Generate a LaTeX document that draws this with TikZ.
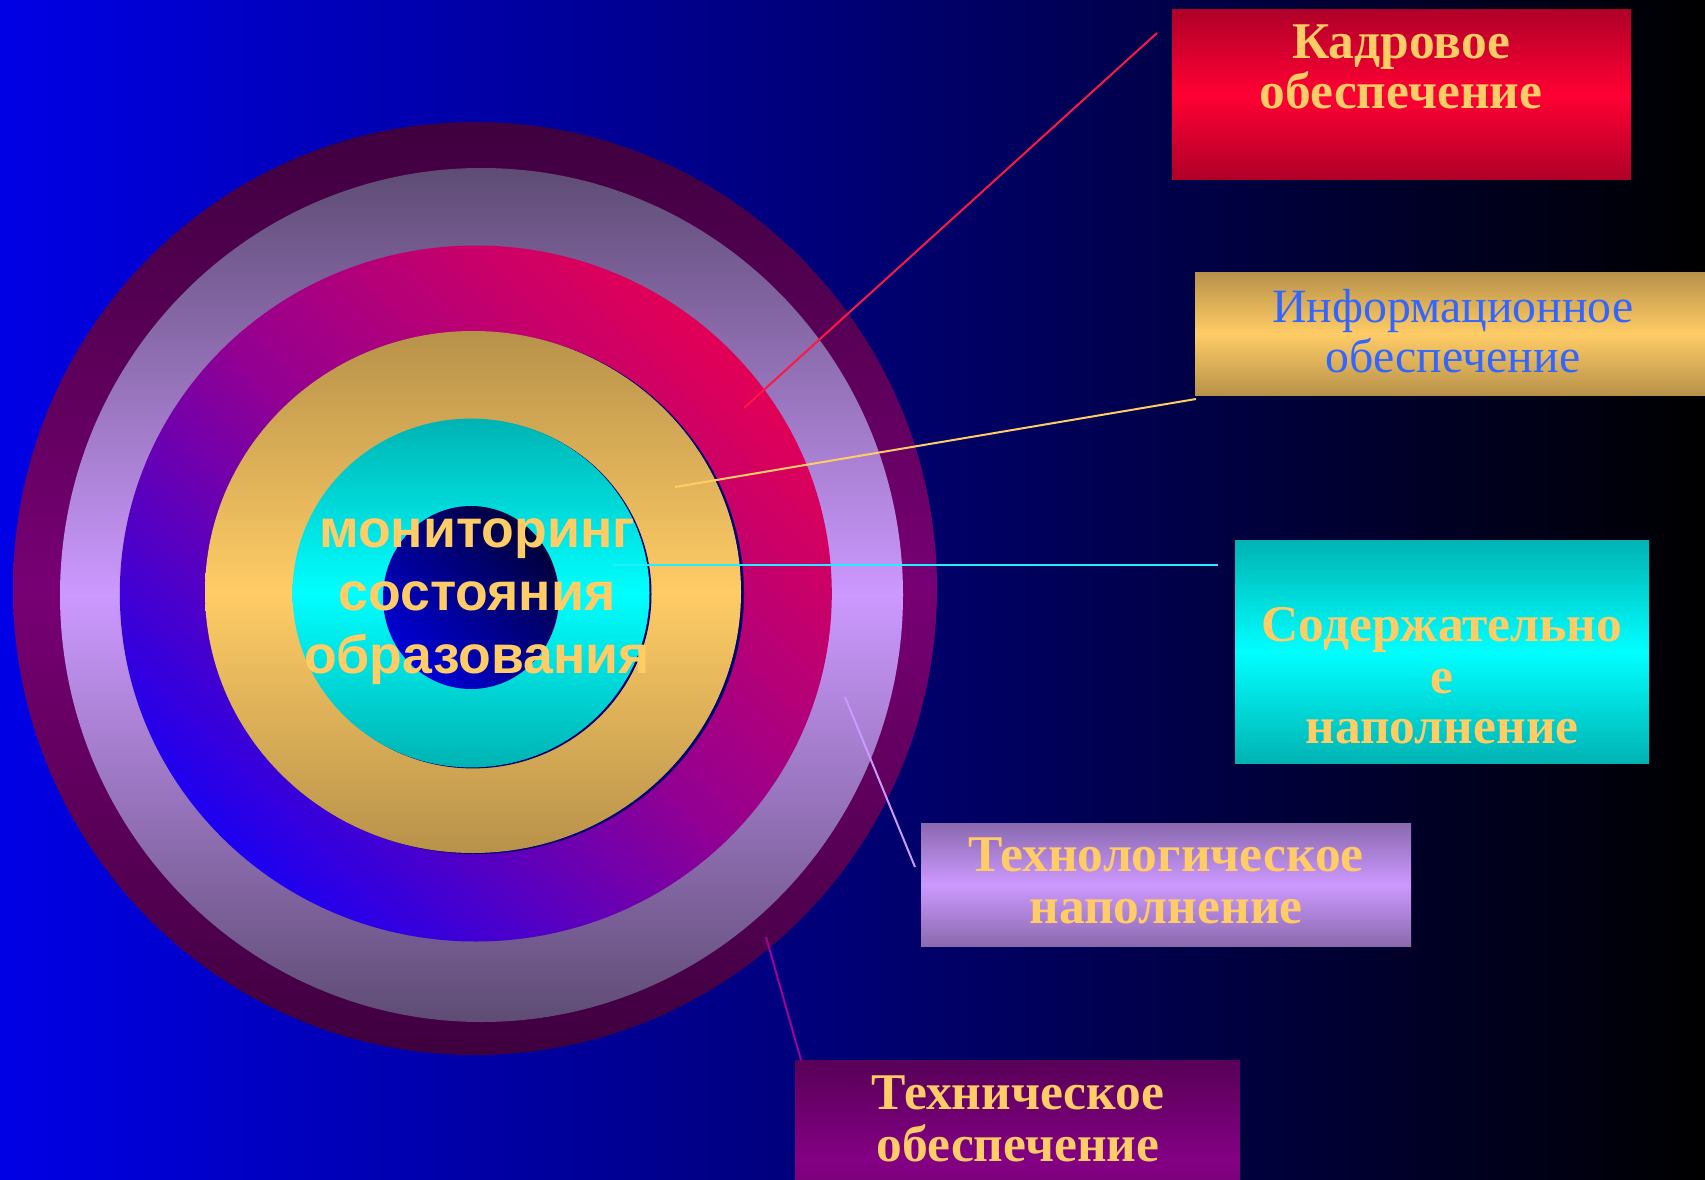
\documentclass[tikz,border=0pt]{standalone}
\usepackage{fontspec}
\setmainfont{Liberation Serif}
\newfontfamily\arialfont{Liberation Sans}
\definecolor{bgL}{HTML}{0000E6}
\definecolor{bgM}{HTML}{000074}
\definecolor{bgR}{HTML}{000000}
\definecolor{outerE}{HTML}{3E003E}
\definecolor{outerM}{HTML}{780074}
\definecolor{lavE}{HTML}{5E4C74}
\definecolor{lavM}{HTML}{CC99FF}
\definecolor{magR}{HTML}{E20056}
\definecolor{magM}{HTML}{920092}
\definecolor{magB}{HTML}{1E00F0}
\definecolor{goldE}{HTML}{B8924A}
\definecolor{goldM}{HTML}{FFCC66}
\definecolor{cyanE}{HTML}{00B3B3}
\definecolor{cyanM}{HTML}{00FFFF}
\definecolor{coreD}{HTML}{000038}
\definecolor{coreL}{HTML}{0000D8}
\definecolor{shadowblue}{HTML}{00006E}
\definecolor{redE}{HTML}{B00028}
\definecolor{redM}{HTML}{FF0033}
\definecolor{lilE}{HTML}{8A69AE}
\definecolor{lilM}{HTML}{CC99FF}
\definecolor{plumE}{HTML}{580058}
\definecolor{plumM}{HTML}{840084}
\definecolor{txtgold}{HTML}{FFCC66}
\definecolor{txtblue}{HTML}{3366FF}
\definecolor{lnred}{HTML}{FF1744}
\definecolor{lngold}{HTML}{FFCC66}
\definecolor{lncyan}{HTML}{22EEFF}
\definecolor{lnlav}{HTML}{CC99FF}
\definecolor{lnplum}{HTML}{A00096}
\begin{document}
\begin{tikzpicture}[x=1pt,y=-1pt,
  lbl/.style={font=\fontsize{51.5}{52}\selectfont\bfseries, text=txtgold, anchor=base, inner sep=0pt},
  lblr/.style={font=\fontsize{47.8}{52}\selectfont, text=txtblue, anchor=base, inner sep=0pt},
  ctr/.style={font=\arialfont\fontsize{53.6}{63}\selectfont\bfseries, text=txtgold, anchor=base, inner sep=0pt},
  panel/.style={rectangle, inner sep=0pt, anchor=north west},
  link/.style={line width=2pt}]
\useasboundingbox (0,0) rectangle (1705,1180);
\clip (0,0) rectangle (1705,1180);
% background
\shade[left color=bgL, right color=bgR, middle color=bgM] (0,0) rectangle (1705,1180);
% concentric rings
\shade[top color=outerE, bottom color=outerE, middle color=outerM] (475,588.5) ellipse [x radius=462pt, y radius=466.5pt];
\shade[top color=lavE, bottom color=lavE, middle color=lavM] (481.5,595) ellipse [x radius=421.5pt, y radius=427pt];
\shade[top color=magR, bottom color=magB, middle color=magM, shading angle=-45] (475.8,593.5) ellipse [x radius=356pt, y radius=348pt];
\fill[shadowblue] (476,593) ellipse [x radius=268pt, y radius=261pt];
\shade[top color=goldE, bottom color=goldE, middle color=goldM] (473,592) ellipse [x radius=268pt, y radius=261pt];
\fill[shadowblue] (473,594) ellipse [x radius=178.5pt, y radius=174.4pt];
\shade[top color=cyanE, bottom color=cyanE, middle color=cyanM] (471,593) ellipse [x radius=178.5pt, y radius=174.4pt];
\shade[top color=coreD, bottom color=coreL, shading angle=-45] (471,597.5) ellipse [x radius=88pt, y radius=91.5pt];
% centre text
\node[ctr] (m1) at (477,547) {мониторинг};
\node[ctr] (m2) at (477,610) {состояния};
\node[ctr] (m3) at (477,673) {образования};
% panels
\node[panel, minimum width=459pt, minimum height=170pt, top color=redE, bottom color=redE, middle color=redM] (kadr) at (1172,9) {};
\node[panel, minimum width=560pt, minimum height=123pt, top color=goldE, bottom color=goldE, middle color=goldM] (info) at (1195,272) {};
\node[panel, minimum width=414pt, minimum height=223pt, top color=cyanE, bottom color=cyanE, middle color=cyanM] (sod) at (1235,540) {};
\node[panel, minimum width=490pt, minimum height=123pt, top color=lilE, bottom color=lilE, middle color=lilM] (tech) at (921,823) {};
\node[panel, minimum width=445pt, minimum height=200pt, top color=plumE, bottom color=plumE, middle color=plumM] (hard) at (795,1060) {};
% panel texts
\node[lbl] (k1) at (1401,59) {Кадровое};
\node[lbl] (k2) at (1401,109) {обеспечение};
\node[lblr] (i1) at (1453,322) {Информационное};
\node[lblr] (i2) at (1453,372) {обеспечение};
\node[lbl] (s1) at (1442,641) {Содержательно};
\node[lbl] (s2) at (1442,693) {е};
\node[lbl] (s3) at (1442,743) {наполнение};
\node[lbl] (t1) at (1166,871) {Технологическое};
\node[lbl] (t2) at (1166,923) {наполнение};
\node[lbl] (e1) at (1018,1109) {Техническое};
\node[lbl] (e2) at (1018,1161) {обеспечение};
% connector ends
\coordinate (ra) at (1157,33);   \coordinate (rb) at (744,408);
\coordinate (ga) at (1196,399);  \coordinate (gb) at (675,487);
\coordinate (ca) at (1218,565);  \coordinate (cb) at (613,565);
\coordinate (la) at (915,867);   \coordinate (lb) at (845,697);
\coordinate (pa) at (801,1060);  \coordinate (pb) at (766,937);
\draw[link, lnred] (ra) -- (rb);
\draw[link, lngold] (ga) -- (gb);
\draw[link, lncyan] (ca) -- (cb);
\draw[link, lnlav] (la) -- (lb);
\draw[link, lnplum] (pa) -- (pb);
\end{tikzpicture}
\end{document}
